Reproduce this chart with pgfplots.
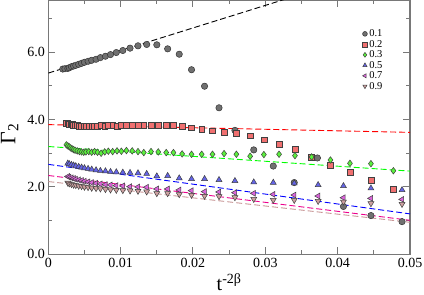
\documentclass[border=0pt]{standalone}
\usepackage{pgfplots}
\pgfplotsset{compat=1.18}
\usepackage{fontspec}
\setmainfont{Liberation Serif}
\definecolor{cgray}{RGB}{112,112,112}
\definecolor{cred}{RGB}{240,112,112}
\definecolor{cgreen}{RGB}{90,240,60}
\definecolor{cblue}{RGB}{100,100,230}
\definecolor{cmag}{RGB}{220,100,220}
\definecolor{cbrown}{RGB}{205,160,160}
\definecolor{lbrown}{RGB}{200,150,150}
\definecolor{axgray}{RGB}{120,120,120}
\begin{document}
\begin{tikzpicture}
\begin{axis}[name=ax, at={(0,0)}, anchor=south west,
  scale only axis, width=361.7pt, height=254.3pt,
  xmin=0, xmax=0.05, ymin=0, ymax=7.55,
  xtick={0,0.01,0.02,0.03,0.04,0.05},
  minor xtick={0.005,0.015,0.025,0.035,0.045},
  ytick={0,2,4,6}, minor ytick={1,3,5,7},
  scaled x ticks=false,
  xticklabel={\pgfmathprintnumber[fixed,precision=2]{\tick}},
  yticklabel style={/pgf/number format/.cd, fixed, fixed zerofill, precision=1},
  /pgf/number format/assume math mode=true,
  ticklabel style={font=\fontsize{14}{14}\selectfont},
  tick align=inside, major tick length=7pt, minor tick length=4pt,
  axis line style={axgray, line width=1.3pt},
  every tick/.style={axgray, line width=1pt},
  xlabel={t\textsuperscript{-2β}},
  xlabel style={font=\fontsize{20}{20}\selectfont, at={(axis description cs:0.5,-0.144)}, anchor=base, inner sep=0pt},
  ylabel={Γ\textsubscript{2}},
  ylabel style={font=\fontsize{22}{22}\selectfont, at={(axis description cs:-0.091,0.473)}, anchor=base, inner sep=0pt},
  legend style={draw=none, fill=none, at={(0.86,0.90)}, anchor=north west,
    font=\fontsize{10.5}{10.5}\selectfont, row sep=-2pt},
  legend image code/.code={\draw[mark repeat=2,mark phase=2,#1] plot coordinates {(0cm,0cm)(0.3cm,0cm)(0.75cm,0cm)};},
  legend image post style={mark size=2.4pt},
  legend cell align=left,
]
% 0.1
\addplot[only marks, mark=*, mark size=3.2pt, mark options={fill=cgray, draw=black!80, line width=0.5pt}] coordinates {
(0.0020,5.50)(0.0023,5.51)(0.0027,5.52)(0.0029,5.54)(0.0032,5.57)(0.0035,5.59)(0.0038,5.61)
(0.0042,5.64)(0.0046,5.67)(0.0050,5.70)(0.0055,5.73)(0.0060,5.76)(0.0066,5.79)(0.0072,5.84)
(0.0079,5.88)(0.0086,5.93)(0.0094,5.99)(0.0103,6.05)(0.0113,6.12)(0.0124,6.19)(0.0136,6.23)
(0.0150,6.22)(0.0165,6.10)(0.0181,5.94)(0.0198,5.48)(0.0216,4.99)(0.0236,4.35)(0.0258,3.68)
(0.0284,3.10)(0.0311,2.62)(0.0340,2.13)(0.0372,2.86)(0.0408,1.42)(0.0446,1.15)(0.0489,0.97)};
\addlegendentry{0.1}
% 0.2
\addplot[only marks, mark=square*, mark size=2.9pt, mark options={fill=cred, draw=black!75, line width=0.5pt}] coordinates {
(0.0025,3.89)(0.0027,3.88)(0.0029,3.87)(0.0031,3.86)(0.0033,3.85)(0.0035,3.84)(0.0037,3.83)
(0.0040,3.82)(0.0043,3.81)(0.0046,3.80)(0.0049,3.80)(0.0052,3.79)(0.0056,3.80)(0.0060,3.80)
(0.0064,3.81)(0.0068,3.81)(0.0073,3.82)(0.0078,3.81)(0.0083,3.82)(0.0089,3.82)(0.0095,3.81)
(0.0101,3.82)(0.0108,3.82)(0.0116,3.82)(0.0124,3.82)(0.0132,3.82)(0.0142,3.82)(0.0152,3.82)
(0.0163,3.82)(0.0173,3.82)(0.0185,3.79)(0.0198,3.76)(0.0212,3.72)(0.0227,3.67)(0.0243,3.63)
(0.0260,3.60)(0.0279,3.52)(0.0298,3.40)(0.0319,3.27)(0.0341,3.11)(0.0364,2.89)(0.0390,2.65)
(0.0417,2.43)(0.0446,2.19)(0.0477,1.94)};
\addlegendentry{0.2}
% 0.3
\addplot[only marks, mark=diamond*, mark size=3.3pt, mark options={fill=cgreen, draw=black!75, line width=0.5pt}] coordinates {
(0.0025,3.25)(0.0027,3.22)(0.0029,3.19)(0.0031,3.16)(0.0033,3.13)(0.0035,3.11)(0.0037,3.09)
(0.0040,3.07)(0.0043,3.05)(0.0046,3.04)(0.0049,3.03)(0.0052,3.04)(0.0056,3.05)(0.0060,3.03)
(0.0064,3.05)(0.0068,3.03)(0.0073,3.00)(0.0078,3.04)(0.0083,3.06)(0.0089,3.05)(0.0095,3.07)
(0.0101,3.06)(0.0108,3.08)(0.0116,3.07)(0.0124,3.05)(0.0132,3.02)(0.0142,3.05)(0.0152,3.04)
(0.0163,3.02)(0.0173,3.02)(0.0185,2.98)(0.0198,2.97)(0.0212,2.97)(0.0227,2.97)(0.0243,2.99)
(0.0260,2.97)(0.0279,2.91)(0.0298,2.96)(0.0319,2.97)(0.0341,2.93)(0.0364,2.89)(0.0390,2.80)
(0.0417,2.70)(0.0446,2.69)(0.0477,2.48)};
\addlegendentry{0.3}
% 0.5
\addplot[only marks, mark=triangle*, mark size=3.4pt, mark options={fill=cblue, draw=black!75, line width=0.5pt}] coordinates {
(0.0027,2.70)(0.0029,2.68)(0.0032,2.66)(0.0035,2.64)(0.0038,2.62)(0.0042,2.60)(0.0046,2.58)
(0.0050,2.56)(0.0055,2.54)(0.0060,2.52)(0.0066,2.50)(0.0072,2.48)(0.0079,2.47)(0.0086,2.45)
(0.0094,2.44)(0.0103,2.43)(0.0113,2.42)(0.0124,2.41)(0.0136,2.39)(0.0150,2.32)(0.0165,2.33)
(0.0181,2.26)(0.0198,2.24)(0.0216,2.24)(0.0236,2.21)(0.0258,2.18)(0.0284,2.14)(0.0311,2.13)
(0.0340,2.11)(0.0373,2.06)(0.0408,2.03)(0.0446,1.96)(0.0489,1.91)};
\addlegendentry{0.5}
% 0.7
\addplot[only marks, mark=triangle*, mark size=3.4pt, mark options={rotate=90, fill=cmag, draw=black!75, line width=0.5pt}] coordinates {
(0.0027,2.31)(0.0029,2.29)(0.0032,2.27)(0.0035,2.25)(0.0038,2.23)(0.0042,2.21)(0.0046,2.19)
(0.0050,2.17)(0.0055,2.15)(0.0060,2.13)(0.0066,2.11)(0.0072,2.09)(0.0079,2.07)(0.0086,2.06)
(0.0094,2.04)(0.0103,2.03)(0.0113,2.01)(0.0124,2.00)(0.0136,1.99)(0.0150,1.94)(0.0165,1.94)
(0.0181,1.91)(0.0198,1.89)(0.0216,1.86)(0.0236,1.85)(0.0258,1.83)(0.0284,1.81)(0.0311,1.78)
(0.0340,1.76)(0.0373,1.73)(0.0408,1.68)(0.0446,1.66)(0.0489,1.63)};
\addlegendentry{0.7}
% 0.9
\addplot[only marks, mark=triangle*, mark size=3.4pt, mark options={rotate=180, fill=cbrown, draw=black!75, line width=0.5pt}] coordinates {
(0.0027,2.12)(0.0029,2.10)(0.0032,2.08)(0.0035,2.06)(0.0038,2.05)(0.0042,2.03)(0.0046,2.02)
(0.0050,2.00)(0.0055,1.99)(0.0060,1.97)(0.0066,1.96)(0.0072,1.95)(0.0079,1.93)(0.0086,1.92)
(0.0094,1.91)(0.0103,1.90)(0.0113,1.89)(0.0124,1.88)(0.0136,1.86)(0.0150,1.81)(0.0165,1.81)
(0.0181,1.78)(0.0198,1.76)(0.0216,1.73)(0.0236,1.72)(0.0258,1.69)(0.0284,1.64)(0.0311,1.61)
(0.0340,1.61)(0.0373,1.58)(0.0408,1.56)(0.0446,1.51)(0.0489,1.49)};
\addlegendentry{0.9}
% fit lines
\addplot[forget plot, black, line width=0.9pt, dash pattern=on 6pt off 3pt] coordinates {(0,5.38)(0.05,8.73)};
\addplot[forget plot, red, line width=0.9pt, dash pattern=on 6pt off 3pt] coordinates {(0,3.85)(0.05,3.62)};
\addplot[forget plot, green, line width=0.9pt, dash pattern=on 6pt off 3pt] coordinates {(0,3.20)(0.05,2.47)};
\addplot[forget plot, blue, line width=0.9pt, dash pattern=on 6pt off 3pt] coordinates {(0,2.67)(0.05,1.20)};
\addplot[forget plot, magenta, line width=0.9pt, dash pattern=on 6pt off 3pt] coordinates {(0,2.34)(0.05,1.01)};
\addplot[forget plot, lbrown, line width=0.9pt, dash pattern=on 6pt off 3pt] coordinates {(0,2.16)(0.05,0.95)};
\end{axis}
\pgfresetboundingbox
\path ([xshift=-48.3pt,yshift=-39.7pt]ax.south west) rectangle ([xshift=14pt]ax.north east);
\end{tikzpicture}
\end{document}
